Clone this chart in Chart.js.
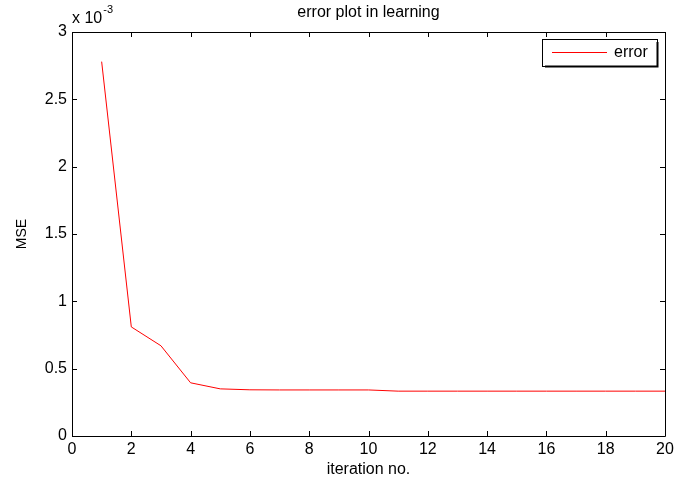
<!DOCTYPE html>
<html>
<head>
<meta charset="utf-8">
<script src="https://cdn.jsdelivr.net/npm/chart.js@4/dist/chart.umd.min.js"></script>
<style>
  body { margin: 0; background: #fff; }
  #wrap { width: 674px; height: 481px; }
</style>
</head>
<body>
<div id="wrap"><canvas id="errChart" width="674" height="481"></canvas></div>
<script>
// data
const iterations = [1, 2, 3, 4, 5, 6, 7, 8, 9, 10, 11, 12, 13, 14, 15, 16, 17, 18, 19, 20];
const mse = [0.00278, 0.00081, 0.00067, 0.000395, 0.00035, 0.000343, 0.000342, 0.000342, 0.000342, 0.000342,
             0.000333, 0.000333, 0.000333, 0.000333, 0.000333, 0.000333, 0.000333, 0.000333, 0.000333, 0.000333];
const xTicks = [0, 2, 4, 6, 8, 10, 12, 14, 16, 18, 20];
const yTicks = [0, 0.0005, 0.001, 0.0015, 0.002, 0.0025, 0.003];
const yTickLabels = ["0", "0.5", "1", "1.5", "2", "2.5", "3"];

const FONT = "'Liberation Sans', Arial, Helvetica, sans-serif";

// MATLAB style box, inward ticks, title, exponent and legend
const matlabAxes = {
    id: 'matlabAxes',
    afterDraw(chart) {
        const ctx = chart.ctx;
        const { left, right, top, bottom } = chart.chartArea;
        const xs = chart.scales.x, ys = chart.scales.y;
        const tl = 5;

        ctx.save();
        ctx.strokeStyle = '#000';
        ctx.lineWidth = 1;
        ctx.beginPath();
        ctx.rect(left + 0.5, top + 0.5, right - left, bottom - top);
        ctx.stroke();

        ctx.beginPath();
        xTicks.forEach(v => {
            let px = Math.round(xs.getPixelForValue(v)) + 0.5;
            ctx.moveTo(px, bottom); ctx.lineTo(px, bottom - tl);
            ctx.moveTo(px, top); ctx.lineTo(px, top + tl);
        });
        yTicks.forEach(v => {
            let py = Math.round(ys.getPixelForValue(v)) + 0.5;
            ctx.moveTo(left, py); ctx.lineTo(left + tl, py);
            ctx.moveTo(right, py); ctx.lineTo(right - tl, py);
        });
        ctx.stroke();

        // title
        ctx.fillStyle = '#000';
        ctx.font = '16px ' + FONT;
        ctx.textAlign = 'center';
        ctx.textBaseline = 'middle';
        ctx.fillText('error plot in learning', (left + right) / 2, 13);

        // exponent
        ctx.textAlign = 'left';
        ctx.font = '16px ' + FONT;
        ctx.fillText('x 10', left, 19);
        let w = ctx.measureText('x 10').width;
        ctx.font = '11px ' + FONT;
        ctx.fillText('-3', left + w + 1, 10);

        // legend
        const ds = chart.data.datasets[0];
        const lx = 542, ly = 39, lw = 115, lh = 27;
        ctx.fillStyle = '#fff';
        ctx.fillRect(lx, ly, lw, lh);
        ctx.strokeStyle = '#000';
        ctx.lineWidth = 1;
        ctx.strokeRect(lx + 0.5, ly + 0.5, lw, lh);
        ctx.beginPath();
        ctx.moveTo(lx + lw + 0.5, ly + 3); ctx.lineTo(lx + lw + 0.5, ly + lh + 0.5);
        ctx.lineTo(lx + 3, ly + lh + 0.5);
        ctx.lineWidth = 2;
        ctx.stroke();
        ctx.strokeStyle = ds.borderColor;
        ctx.lineWidth = 1;
        ctx.beginPath();
        ctx.moveTo(lx + 10, ly + 13.5); ctx.lineTo(lx + 65, ly + 13.5);
        ctx.stroke();
        ctx.fillStyle = '#000';
        ctx.font = '16px ' + FONT;
        ctx.textBaseline = 'middle';
        ctx.fillText(ds.label, lx + 72, ly + 14);
        ctx.restore();
    }
};

new Chart(document.getElementById('errChart'), {
    type: 'line',
    data: {
        labels: iterations,
        datasets: [{
            label: 'error',
            data: iterations.map((it, i) => ({ x: it, y: mse[i] })),
            borderColor: '#ff0000',
            borderWidth: 1,
            pointRadius: 0,
            tension: 0,
            fill: false
        }]
    },
    options: {
        responsive: false,
        animation: false,
        layout: { padding: { top: 32, right: 9, left: 0, bottom: 0 } },
        plugins: { legend: { display: false }, tooltip: { enabled: false } },
        scales: {
            x: {
                type: 'linear',
                min: 0, max: 20,
                afterBuildTicks: s => { s.ticks = xTicks.map(v => ({ value: v })); },
                afterFit: s => { s.height = 45; s.paddingLeft = 0; s.paddingRight = 0; },
                grid: { display: false, drawTicks: false },
                border: { display: false },
                ticks: { color: '#000', padding: 4, font: { size: 16, family: FONT }, maxRotation: 0 },
                title: { display: true, text: 'iteration no.', color: '#000', font: { size: 16, family: FONT }, padding: { bottom: 2 } }
            },
            y: {
                min: 0, max: 0.003,
                afterBuildTicks: s => { s.ticks = yTicks.map(v => ({ value: v })); },
                afterFit: s => { s.width = 72; s.paddingTop = 0; s.paddingBottom = 0; },
                grid: { display: false, drawTicks: false },
                border: { display: false },
                ticks: {
                    color: '#000', padding: 5, font: { size: 16, family: FONT },
                    callback: (v, i) => yTickLabels[i]
                },
                title: { display: true, text: 'MSE', color: '#000', font: { size: 14, family: FONT }, padding: { top: 14 } }
            }
        }
    },
    plugins: [matlabAxes]
});
</script>
</body>
</html>
